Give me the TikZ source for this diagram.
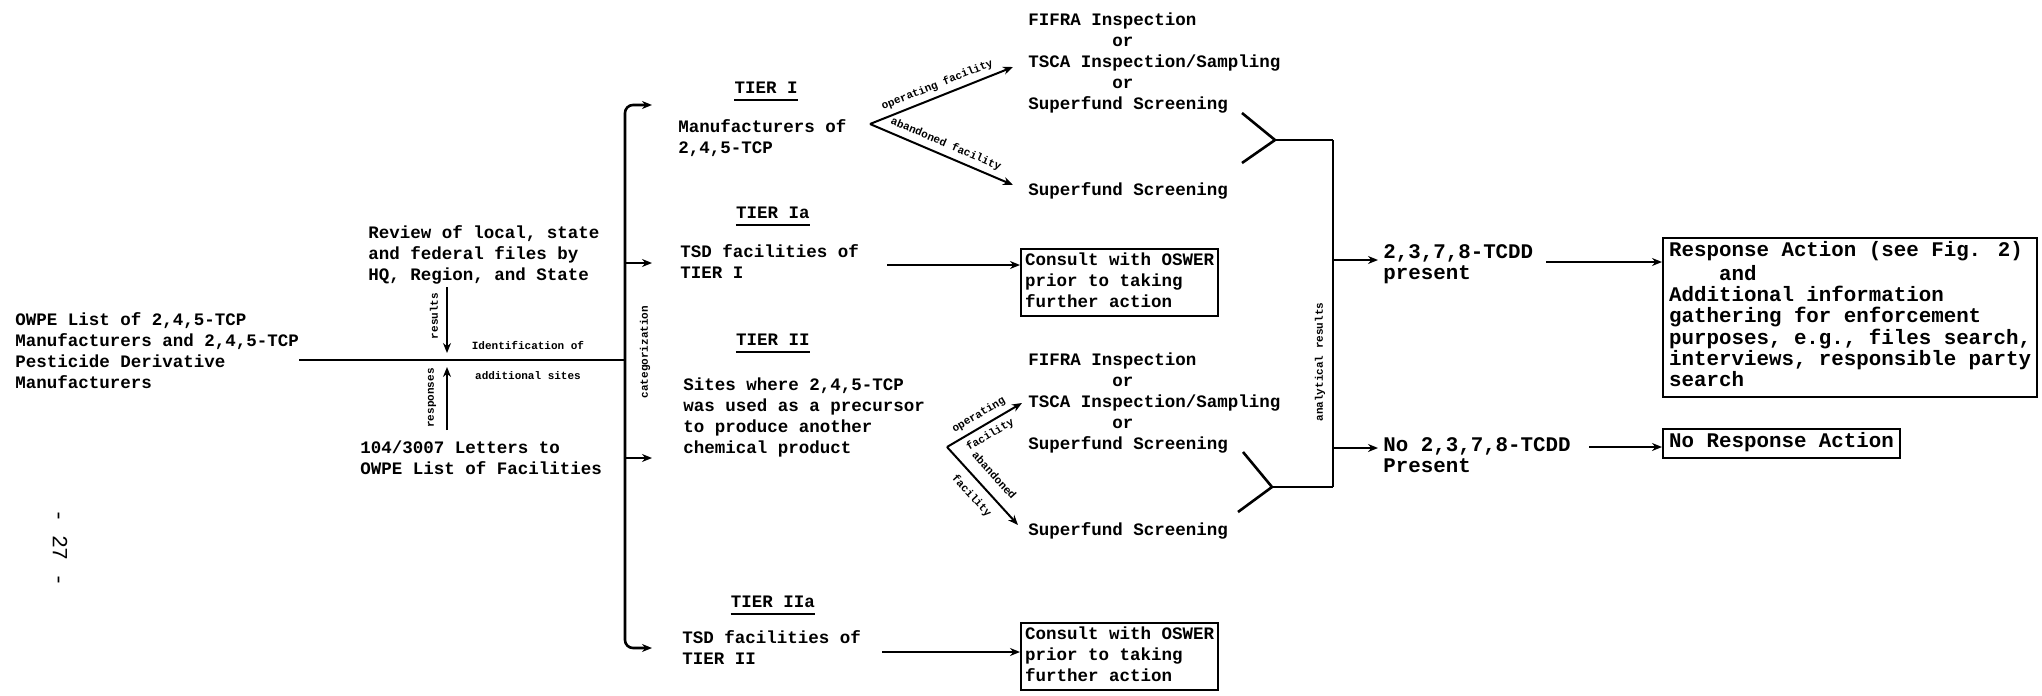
\documentclass[tikz,border=0pt]{standalone}
\usepackage{fontspec}
\setmainfont{Liberation Mono}
\usetikzlibrary{arrows.meta}
\newcommand\lfont{\fontsize{8.75}{10.5}\selectfont\bfseries}
\newcommand\rfont{\fontsize{10.4}{10.65}\selectfont\bfseries}
\newcommand\sfont{\fontsize{5.5}{6}\selectfont\bfseries}
\begin{document}
\begin{tikzpicture}[x=0.5pt,y=-0.5pt,
 lt/.style={anchor=north west,inner sep=0pt,align=left,font=\lfont},
 ct/.style={anchor=north,inner sep=0pt,font=\lfont},
 rt/.style={anchor=north west,inner sep=0pt,align=left,font=\rfont},
 lab/.style={inner sep=0pt,font=\sfont},
 ln/.style={line width=1.3pt},
 arr/.style={line width=1.3pt,-{Stealth[length=5pt,width=4pt]}},
 darr/.style={line width=1pt,-{Stealth[length=5pt,width=4pt]}},
 lbox/.style={draw,line width=1.2pt,anchor=north west,inner xsep=2pt,inner ysep=1pt,align=left,font=\lfont},
 rbox/.style={draw,line width=1.2pt,anchor=north west,inner xsep=3pt,inner ysep=1.8pt,align=left,font=\rfont},
 uline/.style={line width=1.2pt}
]
\useasboundingbox (0,0) rectangle (2042,696);
\fill[white] (0,0) rectangle (2042,696);

% left block
\node[lt] (owpe) at (15,310) {\strut OWPE List of 2,4,5-TCP\\Manufacturers and 2,4,5-TCP\\Pesticide Derivative\\Manufacturers};
\node[lt] (review) at (368,223) {\strut Review of local, state\\and federal files by\\HQ, Region, and State};
\node[lt] (letters) at (360,438) {\strut 104/3007 Letters to\\OWPE List of Facilities};
\coordinate (cat) at (625,360);
\draw[ln] (owpe.east |- cat) -- (cat);
\coordinate (resA) at (447,287);
\coordinate (resB) at (447,353);
\coordinate (rspA) at (447,430);
\coordinate (rspB) at (447,367);
\draw[arr] (resA) -- (resB);
\draw[arr] (rspA) -- (rspB);
\node[lab,rotate=90] (results) at (434,316) {results};
\node[lab,rotate=90] (responses) at (432,398) {responses};
\node[lab,align=center,font=\fontsize{5.5}{15}\selectfont\bfseries] (ident) at (528,360) {Identification of\\additional sites};
\node[rotate=-90,inner sep=0pt,font=\fontsize{10.8}{12}\selectfont] (pg) at (60,548) {- 27 -};

% categorization bar
\coordinate (c1) at (652,105);
\coordinate (c2) at (652,263);
\coordinate (c3) at (652,458);
\coordinate (c4) at (652,648);
\draw[line width=1.3pt,{Stealth[length=5pt,width=4pt]}-{Stealth[length=5pt,width=4pt]},rounded corners=4pt] (c1) -- (625,105) -- (625,648) -- (c4);
\draw[arr] (625,263) -- (c2);
\draw[arr] (625,458) -- (c3);
\node[lab,rotate=90] (categ) at (645,352) {categorization};

% tier I
\node[ct] (t1) at (766,78) {\strut TIER I};
\draw[uline] (t1.south west) -- (t1.south east);
\node[lt] (manu) at (678,117) {\strut Manufacturers of\\2,4,5-TCP};
\coordinate (f1) at (870,124);
\coordinate (f1a) at (1013,67);
\coordinate (f1b) at (1013,185);
\draw[darr] (f1) -- (f1a) node[lab,midway,sloped,above=2.5pt] {operating facility};
\draw[darr] (f1) -- (f1b) node[lab,midway,sloped,above=2.5pt] {abandoned facility};
\node[lt] (fifra1) at (1028,10) {\strut FIFRA Inspection\\\phantom{xxxxxxxx}or\\TSCA Inspection/Sampling\\\phantom{xxxxxxxx}or\\Superfund Screening};
\node[lt] (sf1) at (1028,180) {\strut Superfund Screening};
\coordinate (m1) at (1275,140);
\draw[ln] (1242,113) -- (m1) -- (1242,163);
\coordinate (b1) at (1333,140);
\draw[ln] (m1) -- (b1);

% tier Ia
\node[ct] (t1a) at (773,203) {\strut TIER Ia};
\draw[uline] (t1a.south west) -- (t1a.south east);
\node[lt] (tsd1) at (680,242) {\strut TSD facilities of\\TIER I};
\node[lbox] (con1) at (1020,248) {\strut Consult with OSWER\\prior to taking\\further action\strut};
\draw[arr] (887,265) -- (con1.west |- 0,265);

% tier II
\node[ct] (t2) at (773,330) {\strut TIER II};
\draw[uline] (t2.south west) -- (t2.south east);
\node[lt] (sites) at (683,375) {\strut Sites where 2,4,5-TCP\\was used as a precursor\\to produce another\\chemical product};
\coordinate (f2) at (947,447);
\coordinate (f2a) at (1022,403);
\coordinate (f2b) at (1018,525);
\draw[darr] (f2) -- (f2a) node[lab,midway,sloped,align=center,font=\fontsize{5.5}{11.5}\selectfont\bfseries] {operating\\facility};
\draw[darr] (f2) -- (f2b) node[lab,midway,sloped,align=center,font=\fontsize{5.5}{15}\selectfont\bfseries] {abandoned\\facility};
\node[lt] (fifra2) at (1028,350) {\strut FIFRA Inspection\\\phantom{xxxxxxxx}or\\TSCA Inspection/Sampling\\\phantom{xxxxxxxx}or\\Superfund Screening};
\node[lt] (sf2) at (1028,520) {\strut Superfund Screening};
\coordinate (m2) at (1272,487);
\draw[ln] (1243,452) -- (m2) -- (1238,512);
\coordinate (b2) at (1333,487);
\draw[ln] (m2) -- (b2);

% tier IIa
\node[ct] (t2a) at (773,592) {\strut TIER IIa};
\draw[uline] (t2a.south west) -- (t2a.south east);
\node[lt] (tsd2) at (682,628) {\strut TSD facilities of\\TIER II};
\node[lbox] (con2) at (1020,622) {\strut Consult with OSWER\\prior to taking\\further action\strut};
\draw[arr] (882,652) -- (con2.west |- 0,652);

% analytical results bar
\draw[ln] (b1) -- (b2);
\node[lab,rotate=90] (anal) at (1320,362) {analytical results};
\coordinate (p1) at (1378,260);
\coordinate (p2) at (1378,448);
\draw[arr] (1333,260) -- (p1);
\draw[arr] (1333,448) -- (p2);
\node[rt] (tcdd) at (1383,243) {\strut 2,3,7,8-TCDD\\present};
\node[rt] (notcdd) at (1383,436) {\strut No 2,3,7,8-TCDD\\Present};
\node[rbox] (resp) at (1662,237) {\strut Response Action (see Fig. 2)\\\phantom{xxxx}and\\Additional information\\gathering for enforcement\\purposes, e.g., files search,\\interviews, responsible party\\search\strut};
\node[rbox] (nores) at (1662,428) {\strut No Response Action};
\draw[arr] (1546,262) -- (resp.west |- 0,262);
\draw[arr] (1589,447) -- (nores.west |- 0,447);
\end{tikzpicture}
\end{document}
